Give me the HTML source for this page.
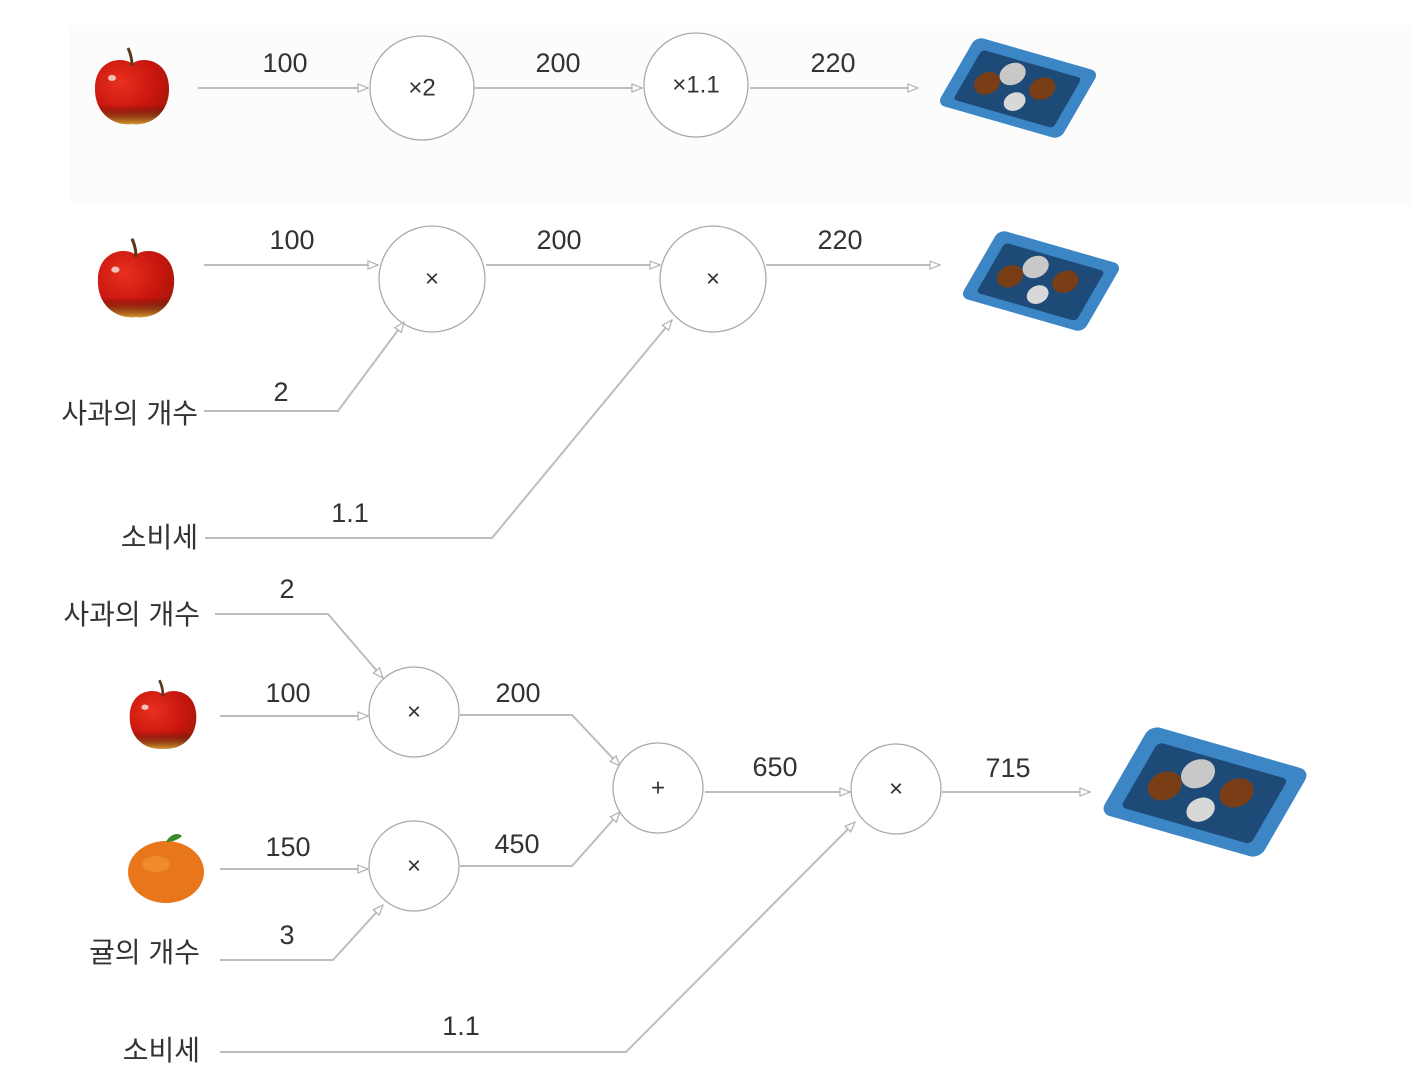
<!DOCTYPE html>
<html><head><meta charset="utf-8"><style>
html,body{margin:0;padding:0;background:#fff;}
svg{display:block;}
text{font-family:"Liberation Sans","Noto Sans CJK KR","NanumGothic",sans-serif;fill:#333;}
.n{font-size:27px;text-anchor:middle;}
.k{font-size:28px;text-anchor:end;}
.c{font-size:24px;text-anchor:middle;dominant-baseline:middle;}
.l{stroke:#bdbdbd;stroke-width:2;fill:none;marker-end:url(#ah);}
.ci{fill:#fff;stroke:#aaa;stroke-width:1.3;}
</style></head><body>
<svg width="1411" height="1074" viewBox="0 0 1411 1074" xmlns="http://www.w3.org/2000/svg">
<defs>
<marker id="ah" markerWidth="12" markerHeight="10" refX="11" refY="5" orient="auto" markerUnits="userSpaceOnUse">
<path d="M1,1 L11,5 L1,9 Z" fill="#fff" stroke="#b0b0b0" stroke-width="1.2"/>
</marker>
<radialGradient id="ag" cx="0.35" cy="0.35" r="0.8">
<stop offset="0" stop-color="#e8301e"/><stop offset="0.6" stop-color="#c8150e"/><stop offset="1" stop-color="#9a1a08"/>
</radialGradient>
<linearGradient id="ab" x1="0" y1="0" x2="0" y2="1">
<stop offset="0.7" stop-color="#000" stop-opacity="0"/><stop offset="1" stop-color="#d8a030" stop-opacity="0.95"/>
</linearGradient>
<g id="apple">
<path d="M0,-26 C-8,-34 -36,-32 -37,-3 C-38,22 -20,36 0,34 C20,36 38,22 37,-3 C36,-32 8,-34 0,-26 Z" fill="url(#ag)"/>
<path d="M0,-26 C-8,-34 -36,-32 -37,-3 C-38,22 -20,36 0,34 C20,36 38,22 37,-3 C36,-32 8,-34 0,-26 Z" fill="url(#ab)"/>
<path d="M0,-24 C0,-32 -2,-38 -4,-42" stroke="#5a3a1a" stroke-width="3" fill="none"/>
<ellipse cx="-20" cy="-12" rx="4" ry="3" fill="#fff" opacity="0.7"/>
</g>
<g id="tray">
<g transform="rotate(16) skewX(-14)">
<rect x="-64" y="-38" width="128" height="76" rx="8" fill="#3d86c6"/>
<rect x="-52" y="-27" width="104" height="56" rx="4" fill="#1e4a78"/>
<circle cx="-12" cy="-12" r="12" fill="#c8c8c8"/>
<circle cx="-30" cy="4" r="12" fill="#7a3e16"/>
<circle cx="22" cy="-6" r="12" fill="#7a3e16"/>
<circle cx="4" cy="14" r="10" fill="#d8d8d8"/>
</g>
</g>
</defs>

<rect x="70" y="25" width="1341" height="180" fill="#fcfcfc"/>

<!-- Row 1 -->
<use href="#apple" transform="translate(132,90) scale(1)"/>
<line class="l" x1="198" y1="88" x2="368" y2="88"/>
<text class="n" x="285" y="72">100</text>
<circle class="ci" cx="422" cy="88" r="52"/><text class="c" x="422" y="89">×2</text>
<line class="l" x1="474" y1="88" x2="642" y2="88"/>
<text class="n" x="558" y="72">200</text>
<circle class="ci" cx="696" cy="85" r="52"/><text class="c" x="696" y="86">×1.1</text>
<line class="l" x1="750" y1="88" x2="918" y2="88"/>
<text class="n" x="833" y="72">220</text>
<use href="#tray" transform="translate(1018,88)"/>

<!-- Row 2 -->
<use href="#apple" transform="translate(136,282) scale(1.03)"/>
<line class="l" x1="204" y1="265" x2="378" y2="265"/>
<text class="n" x="292" y="249">100</text>
<circle class="ci" cx="432" cy="279" r="53"/><text class="c" x="432" y="280">×</text>
<line class="l" x1="486" y1="265" x2="660" y2="265"/>
<text class="n" x="559" y="249">200</text>
<circle class="ci" cx="713" cy="279" r="53"/><text class="c" x="713" y="280">×</text>
<line class="l" x1="766" y1="265" x2="940" y2="265"/>
<text class="n" x="840" y="249">220</text>
<use href="#tray" transform="translate(1041,281)"/>
<text class="k" x="198" y="423">사과의 개수</text>
<polyline class="l" points="204,411 338,411 404,322"/>
<text class="n" x="281" y="401">2</text>
<text class="k" x="198" y="547">소비세</text>
<polyline class="l" points="205,538 492,538 672,320"/>
<text class="n" x="350" y="522">1.1</text>

<!-- Row 3 -->
<text class="k" x="200" y="624">사과의 개수</text>
<polyline class="l" points="215,614 328,614 383,678"/>
<text class="n" x="287" y="598">2</text>
<use href="#apple" transform="translate(163,718) scale(0.9)"/>
<line class="l" x1="220" y1="716" x2="368" y2="716"/>
<text class="n" x="288" y="702">100</text>
<circle class="ci" cx="414" cy="712" r="45"/><text class="c" x="414" y="713">×</text>
<polyline class="l" points="460,715 572,715 620,766"/>
<text class="n" x="518" y="702">200</text>
<circle class="ci" cx="658" cy="788" r="45"/><text class="c" x="658" y="789">+</text>
<g transform="translate(166,870)">
<ellipse cx="0" cy="2" rx="38" ry="31" fill="#e8761a"/>
<ellipse cx="-10" cy="-6" rx="14" ry="8" fill="#f39a3a" opacity="0.6"/>
<path d="M0,-28 C4,-36 12,-38 16,-34 C12,-30 6,-28 0,-28 Z" fill="#3a8a2a"/>
</g>
<line class="l" x1="220" y1="869" x2="368" y2="869"/>
<text class="n" x="288" y="856">150</text>
<circle class="ci" cx="414" cy="866" r="45"/><text class="c" x="414" y="867">×</text>
<polyline class="l" points="460,866 572,866 620,812"/>
<text class="n" x="517" y="853">450</text>
<text class="n" x="287" y="944">3</text>
<text class="k" x="200" y="962">귤의 개수</text>
<polyline class="l" points="220,960 333,960 383,905"/>
<line class="l" x1="705" y1="792" x2="850" y2="792"/>
<text class="n" x="775" y="776">650</text>
<circle class="ci" cx="896" cy="789" r="45"/><text class="c" x="896" y="790">×</text>
<line class="l" x1="942" y1="792" x2="1090" y2="792"/>
<text class="n" x="1008" y="777">715</text>
<use href="#tray" transform="translate(1205,792) scale(1.3)"/>
<text class="k" x="200" y="1060">소비세</text>
<polyline class="l" points="220,1052 626,1052 855,822"/>
<text class="n" x="461" y="1035">1.1</text>
</svg>
</body></html>
